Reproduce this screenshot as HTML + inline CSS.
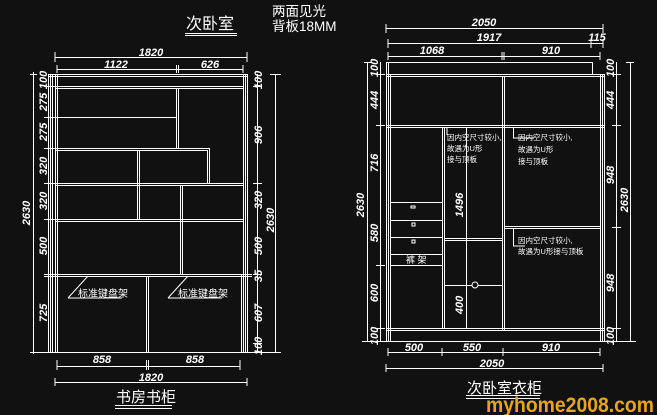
<!DOCTYPE html>
<html><head><meta charset="utf-8"><style>
html,body{margin:0;padding:0;background:#111;}
svg{display:block}
text{font-family:"Liberation Sans","Noto Sans CJK SC",sans-serif;fill:#fff}
.d{font-style:italic;font-weight:bold;font-size:11px}
.s{font-size:7.5px}
</style></head><body>
<svg width="657" height="415" viewBox="0 0 657 415" xmlns="http://www.w3.org/2000/svg">
<rect width="657" height="415" fill="#111"/>
<g stroke="#fff" stroke-width="1" fill="none">
<path d="M48.5 74V352M50.5 74V352M55.5 74V352M57.5 74V352"/>
<path d="M243.5 74V352M245.5 74V352M247.5 74V352M241.5 274V352"/>
<path d="M48 74.5H247M48 76.5H247"/>
<path d="M55 86.5H243M55 88.5H243"/>
<path d="M176.5 88V148M178.5 88V148"/>
<path d="M55 117.5H176"/>
<path d="M55 148.5H209M55 150.5H207M209.5 148V183M207.5 150V183"/>
<path d="M55 183.5H243M55 185.5H243"/>
<path d="M137.5 150V219M139.5 150V219"/>
<path d="M182.5 185V274M180.5 185V274"/>
<path d="M55 219.5H243M55 221.5H243"/>
<path d="M44 274.5H252M44 276.5H252"/>
<path d="M146.5 276V352M148.5 276V352"/>
<path d="M30 352.5H280"/>
<path d="M68 298L88 276M68 298H122M168 298L188 276M168 298H222"/>
<path d="M33.5 72V354M30 74.5H37M30 352.5H37"/>
<path d="M52.5 74V352"/>
<path d="M44 86.5H56M44 117.5H56M44 148.5H56M44 183.5H56M44 219.5H56"/>
<path d="M257.5 74V352M253 86.5H262M253 183.5H262M253 274.5H262M253 343.5H262"/>
<path d="M275.5 74V352M270 74.5H281M270 352.5H281"/>
<path d="M55 57.5H247M55 52V62M247 52V62"/>
<path d="M57 69.5H243M57 65V73M243 65V73M176.5 65V73M178.5 65V73"/>
<path d="M57 366.5H240M57 360V370M240 360V370M148.5 360V370M146.5 360V370"/>
<path d="M55 382.5H247M55 378V386M247 378V386"/>
<path d="M185 33.5H237M185 35.5H237"/>
<path d="M115 405.5H172M115 408.5H172"/>

<path d="M386.5 62V341M388.5 62V341M390.5 74V341"/>
<path d="M600.5 74V341M602.5 74V341M604.5 74V341"/>
<path d="M386 62.5H592M592.5 62V74"/>
<path d="M386 74.5H604M386 76.5H604"/>
<path d="M502.5 76V330M504.5 76V330"/>
<path d="M386 125.5H604M386 127.5H604"/>
<path d="M442.5 127V328M444.5 127V328"/>
<path d="M466.5 127V328"/>
<path d="M390 202.5H442M390 220.5H442M390 237.5H442M390 254.5H442M390 265.5H442"/>
<path d="M444 238.5H502M444 240.5H502"/>
<circle cx="475" cy="285" r="3"/>
<path d="M444 285.5H472M478 285.5H502"/>
<path d="M504 226.5H600M504 228.5H600"/>
<path d="M386 328.5H604M386 330.5H604"/>
<path d="M362 341.5H636"/>
<path d="M447 127V135M513.5 127V138H534M513.5 228V246H525"/>
<rect x="411" y="206" width="4" height="2"/>
<rect x="412" y="223" width="3" height="3"/>
<rect x="412" y="240" width="3" height="3"/>
<path d="M380.5 62V341M376 74.5H385M376 125.5H385M376 265.5H385M376 328.5H385"/>
<path d="M367.5 62V341M364 62.5H372M364 341.5H372"/>
<path d="M616.5 62V341M612 74.5H621M612 125.5H621M612 227.5H621M612 328.5H621"/>
<path d="M630.5 62V341M626 62.5H634M626 341.5H634"/>
<path d="M386 28.5H603M386 24V33M603 24V33"/>
<path d="M388 43.5H603M388 39V48M603 39V48M591 39V48"/>
<path d="M388 56.5H600M388 52V60M600 52V60M502 52V60M504 52V60"/>
<path d="M388 352.5H600M388 348V356M600 348V356M442 348V356M503 348V356"/>
<path d="M386 368.5H603M386 364V372M603 364V372"/>
<path d="M466 395.5H540M466 398.5H540"/>
</g>
<text x="186" y="29" font-size="16">次卧室</text>
<text x="272" y="16" font-size="13.5">两面见光</text>
<text x="272" y="31" font-size="13.5">背板18MM</text>
<text x="116" y="402" font-size="15">书房书柜</text>
<text x="467" y="393" font-size="15">次卧室衣柜</text>
<text x="486" y="412" font-size="21" font-weight="bold" textLength="168" lengthAdjust="spacingAndGlyphs" style="fill:#e8a41c">myhome2008.com</text>
<text x="78" y="297" font-size="10">标准键盘架</text>
<text x="178" y="297" font-size="10">标准键盘架</text>
<text x="406" y="263" font-size="9">裤 架</text>
<g class="s">
<text x="447" y="140">因内空尺寸较小,</text><text x="447" y="151">故遇为U形</text><text x="447" y="162">接与顶板</text>
<text x="518" y="140">因内空尺寸较小,</text><text x="518" y="152">故遇为U形</text><text x="518" y="164">接与顶板</text>
<text x="518" y="243">因内空尺寸较小,</text><text x="518" y="254">故遇为U形接与顶板</text>
</g>
<g class="d" text-anchor="middle">
<text x="151" y="56">1820</text><text x="116" y="68">1122</text><text x="210" y="68">626</text>
<text x="102" y="363">858</text><text x="195" y="363">858</text><text x="151" y="381">1820</text>
<text x="484" y="26">2050</text><text x="489" y="41">1917</text><text x="597" y="41">115</text>
<text x="432" y="54">1068</text><text x="551" y="54">910</text>
<text x="414" y="351">500</text><text x="472" y="351">550</text><text x="551" y="351">910</text><text x="492" y="367">2050</text>
<g font-size="11">
<text transform="translate(47,80) rotate(-90)">100</text>
<text transform="translate(47,102) rotate(-90)">275</text>
<text transform="translate(47,132) rotate(-90)">275</text>
<text transform="translate(47,166) rotate(-90)">320</text>
<text transform="translate(47,201) rotate(-90)">320</text>
<text transform="translate(47,246) rotate(-90)">500</text>
<text transform="translate(47,313) rotate(-90)">725</text>
<text transform="translate(30,213) rotate(-90)">2630</text>
<text transform="translate(262,80) rotate(-90)">100</text>
<text transform="translate(262,135) rotate(-90)">906</text>
<text transform="translate(262,200) rotate(-90)">320</text>
<text transform="translate(262,246) rotate(-90)">500</text>
<text transform="translate(262,276) rotate(-90)">35</text>
<text transform="translate(262,313) rotate(-90)">607</text>
<text transform="translate(262,346) rotate(-90)">100</text>
<text transform="translate(274,220) rotate(-90)">2630</text>
<text transform="translate(378,68) rotate(-90)">100</text>
<text transform="translate(378,100) rotate(-90)">444</text>
<text transform="translate(378,163) rotate(-90)">716</text>
<text transform="translate(378,233) rotate(-90)">580</text>
<text transform="translate(378,293) rotate(-90)">600</text>
<text transform="translate(378,336) rotate(-90)">100</text>
<text transform="translate(364,205) rotate(-90)">2630</text>
<text transform="translate(463,205) rotate(-90)">1496</text>
<text transform="translate(463,305) rotate(-90)">400</text>
<text transform="translate(614,68) rotate(-90)">100</text>
<text transform="translate(614,100) rotate(-90)">444</text>
<text transform="translate(614,175) rotate(-90)">948</text>
<text transform="translate(614,283) rotate(-90)">948</text>
<text transform="translate(614,336) rotate(-90)">100</text>
<text transform="translate(628,200) rotate(-90)">2630</text>
</g>
</g>
</svg>
</body></html>
